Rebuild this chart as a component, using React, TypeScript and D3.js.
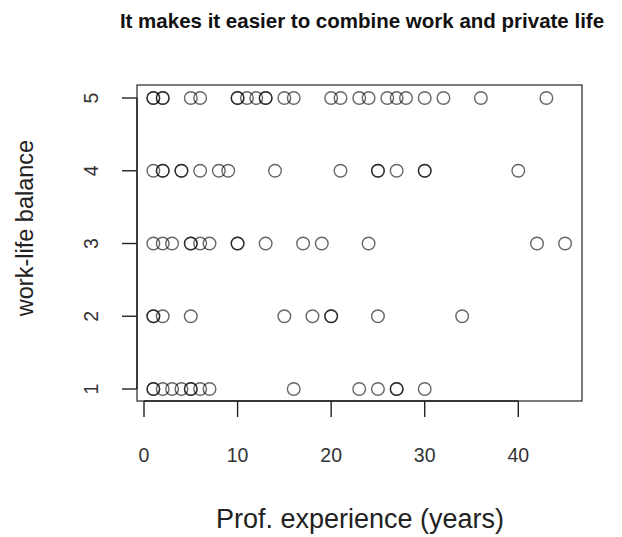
import React from "react";
import * as d3 from "d3";

// Years of professional experience of each respondent, grouped by the
// work-life balance rating they gave (repeated years are separate people).
const balance5Years = [1, 1, 2, 2, 5, 6, 10, 10, 11, 12, 13, 13, 15, 16, 20, 21, 23, 24, 26, 27, 28, 30, 32, 36, 43];
const balance4Years = [1, 2, 2, 4, 4, 6, 8, 9, 14, 21, 25, 25, 27, 30, 30, 40];
const balance3Years = [1, 2, 3, 5, 5, 6, 7, 10, 10, 13, 17, 19, 24, 42, 45];
const balance2Years = [1, 1, 2, 5, 15, 18, 20, 20, 25, 34];
const balance1Years = [1, 1, 2, 3, 4, 5, 5, 6, 7, 16, 23, 25, 27, 27, 30];

const ratingLevels = [5, 4, 3, 2, 1];
const yearsByLevel = [balance5Years, balance4Years, balance3Years, balance2Years, balance1Years];

const xTicks = [0, 10, 20, 30, 40];
const yTicks = [1, 2, 3, 4, 5];

const title = "It makes it easier to combine work and private life";
const xTitle = "Prof. experience (years)";
const yTitle = "work-life balance";

const W = 622;
const H = 537;
const box = { left: 137, right: 582, top: 85, bottom: 401 };

export default function App() {
  const x = d3.scaleLinear().domain([0, 40]).range([144, 518.3]);
  const y = d3.scaleLinear().domain([1, 5]).range([389, 98]);

  const points = ratingLevels.flatMap((lvl, i) =>
    yearsByLevel[i].map((yr) => ({ yr, lvl }))
  );

  const font = "Liberation Sans, Arial, Helvetica, sans-serif";
  const ink = "#222";

  return (
    <svg
      width={W}
      height={H}
      style={{ position: "absolute", left: 0, top: 0, background: "#fff" }}
      fontFamily={font}
    >
      <rect x={0} y={0} width={W} height={H} fill="#fff" />
      <text x={362} y={28} textAnchor="middle" fontWeight="bold" fontSize={20.5} fill="#111">
        {title}
      </text>

      {/* plot frame */}
      <rect
        x={box.left}
        y={box.top}
        width={box.right - box.left}
        height={box.bottom - box.top}
        fill="none"
        stroke="#444"
        strokeWidth={1.4}
      />

      {/* x axis */}
      <line x1={x(0)} x2={x(40)} y1={box.bottom} y2={box.bottom} stroke={ink} strokeWidth={1.4} />
      {xTicks.map((t) => (
        <g key={t}>
          <line x1={x(t)} x2={x(t)} y1={box.bottom} y2={box.bottom + 16} stroke={ink} strokeWidth={1.4} />
          <text x={x(t)} y={462} textAnchor="middle" fontSize={19.5} fill="#333">
            {t}
          </text>
        </g>
      ))}
      <text x={360} y={528} textAnchor="middle" fontSize={27} fill="#222">
        {xTitle}
      </text>

      {/* y axis */}
      <line x1={box.left} x2={box.left} y1={y(1)} y2={y(5)} stroke={ink} strokeWidth={1.4} />
      {yTicks.map((t) => (
        <g key={t}>
          <line x1={box.left - 15} x2={box.left} y1={y(t)} y2={y(t)} stroke={ink} strokeWidth={1.4} />
          <text
            transform={`translate(98,${y(t)}) rotate(-90)`}
            textAnchor="middle"
            fontSize={19.5}
            fill="#333"
          >
            {t}
          </text>
        </g>
      ))}
      <text
        transform={`translate(33,228) rotate(-90)`}
        textAnchor="middle"
        fontSize={23.5}
        fill="#222"
      >
        {yTitle}
      </text>

      {/* respondents */}
      {points.map((p, i) => (
        <circle
          key={i}
          cx={x(p.yr)}
          cy={y(p.lvl)}
          r={6.3}
          fill="none"
          stroke="#000"
          strokeOpacity={0.6}
          strokeWidth={1.4}
        />
      ))}
    </svg>
  );
}
